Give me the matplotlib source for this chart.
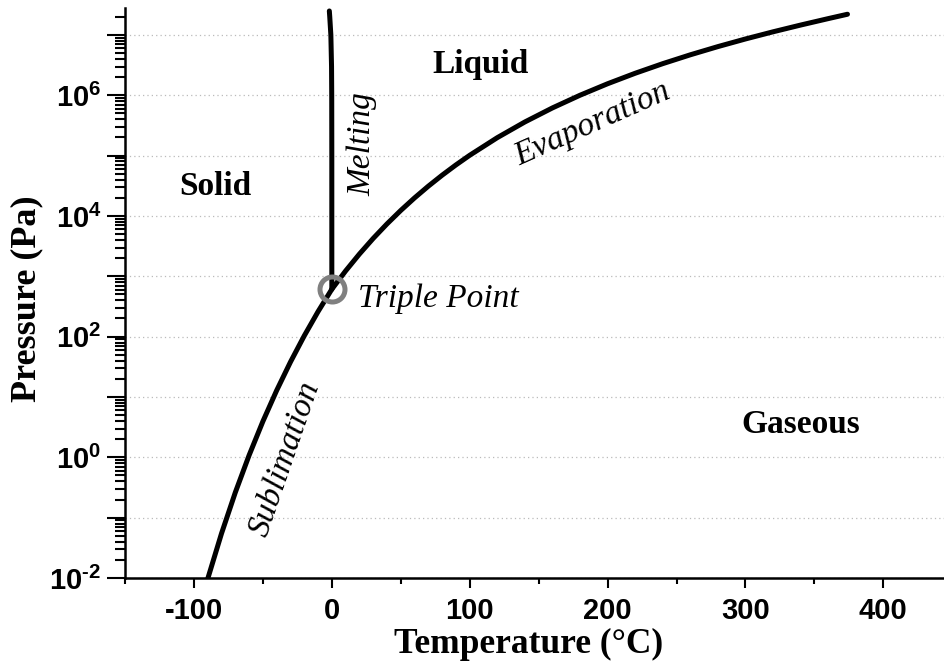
import numpy as np
import matplotlib
matplotlib.use("Agg")
import matplotlib.pyplot as plt
from matplotlib.ticker import LogLocator, FixedLocator, MultipleLocator, FuncFormatter, NullFormatter

plt.rcParams['axes.unicode_minus'] = False
plt.rcParams['mathtext.fontset'] = 'custom'
plt.rcParams['mathtext.bf'] = 'Liberation Sans:bold'
plt.rcParams['mathtext.rm'] = 'Liberation Sans:bold'
plt.rcParams['mathtext.it'] = 'Liberation Sans:bold'

# Sublimation curve (ice - vapour), T in degC, p in Pa
subl_T = [-91, -90, -80, -70, -60, -50, -40, -30, -20, -10, 0.01]
subl_p = [0.0085, 0.0097, 0.0547, 0.2615, 1.08, 3.94, 12.84, 38.0, 103.3, 259.9, 611.657]

# Evaporation curve (liquid - vapour)
evap_T = [0.01, 10, 20, 30, 40, 50, 60, 70, 80, 90, 100, 120, 140, 160, 180,
          200, 220, 240, 260, 280, 300, 320, 340, 360, 374]
evap_p = [611.657, 1228, 2339, 4247, 7385, 12352, 19946, 31201, 47414, 70182,
          101418, 198670, 361540, 618230, 1002800, 1554900, 2319600, 3346900,
          4692300, 6416600, 8587900, 11284000, 14601000, 18666000, 22064000]

# Melting curve (ice - liquid)
melt_T = [0.01, 0.0, -0.007, -0.07, -0.2, -0.7, -1.5, -1.8]
melt_p = [611.657, 1e4, 1e5, 1e6, 3e6, 1e7, 2e7, 2.5e7]

triple_T = [0.01]
triple_p = [611.657]

x_ticks = [-100, 0, 100, 200, 300, 400]

fig = plt.figure(figsize=(9.44, 6.66), dpi=100)
ax = fig.add_axes([125/944, 1-578/666, 1-125/944, (578-8)/666])

ax.set_yscale('log')
ax.set_xlim(-150, 444)
ax.set_ylim(1e-2, 2.8e7)

ax.plot(subl_T, subl_p, color='black', lw=3.6, solid_capstyle='round', zorder=3)
ax.plot(evap_T, evap_p, color='black', lw=3.6, solid_capstyle='round', zorder=3)
ax.plot(melt_T, melt_p, color='black', lw=3.6, solid_capstyle='round', zorder=3)
ax.plot(triple_T, triple_p, 'o', ms=18, mfc='none', mec='#808080', mew=3.6, zorder=4)

ax.yaxis.set_major_locator(LogLocator(base=10, numticks=30))
ax.yaxis.set_minor_locator(LogLocator(base=10, subs=np.arange(2, 10), numticks=30))
def yfmt(v, pos):
    e = int(round(np.log10(v)))
    if e % 2 == 0:
        s = str(e).replace('-', '\u2010')
        return r'$\mathbf{10^{%s}}$' % s
    return ''
ax.yaxis.set_major_formatter(FuncFormatter(yfmt))
ax.yaxis.set_minor_formatter(NullFormatter())
ax.grid(axis='y', which='major', ls=(0, (1, 2.5)), color='#bbbbbb', lw=0.9)
ax.set_axisbelow(True)

ax.xaxis.set_major_locator(FixedLocator(x_ticks))
ax.xaxis.set_minor_locator(MultipleLocator(50))

for s in ['top', 'right']:
    ax.spines[s].set_visible(False)
for s in ['left', 'bottom']:
    ax.spines[s].set_linewidth(1.8)

ax.tick_params(axis='y', which='major', direction='out', length=13, width=1.5, pad=4, labelsize=21)
ax.tick_params(axis='y', which='minor', direction='out', length=7, width=1.5)
ax.tick_params(axis='x', which='major', direction='out', length=7, width=1.5, pad=7, labelsize=21)
ax.tick_params(axis='x', which='minor', direction='out', length=4, width=1.5)
for lab in ax.get_xticklabels():
    lab.set_fontfamily('Liberation Sans')
    lab.set_fontweight('bold')

ax.set_xlabel('Temperature (°C)', fontfamily='Liberation Serif', fontweight='bold', fontsize=25.5)
ax.set_ylabel('Pressure (Pa)', fontfamily='Liberation Serif', fontweight='bold', fontsize=26)
ax.xaxis.set_label_coords(0.493, -0.087)
ax.yaxis.set_label_coords(-0.100, 0.49)

reg = dict(fontfamily='Liberation Serif', fontweight='bold', fontsize=24, ha='center', va='center')
ax.text(-84.7, 3.1e4, 'Solid', **reg)
ax.text(107.6, 3.2e6, 'Liquid', **reg)
ax.text(339.9, 3.55, 'Gaseous', **reg)

it = dict(fontfamily='Liberation Serif', style='italic', fontsize=24, ha='center', va='center')
ax.text(22, 1.55e5, 'Melting', rotation=90, **it)
ax.text(189, 3.3e5, 'Evaporation', rotation=24, **it)
ax.text(-34, 0.93, 'Sublimation', rotation=71, **it)
ax.text(19, 417, 'Triple Point', fontfamily='Liberation Serif', style='italic', fontsize=24, ha='left', va='center')

fig.savefig('out.png', dpi=100)
